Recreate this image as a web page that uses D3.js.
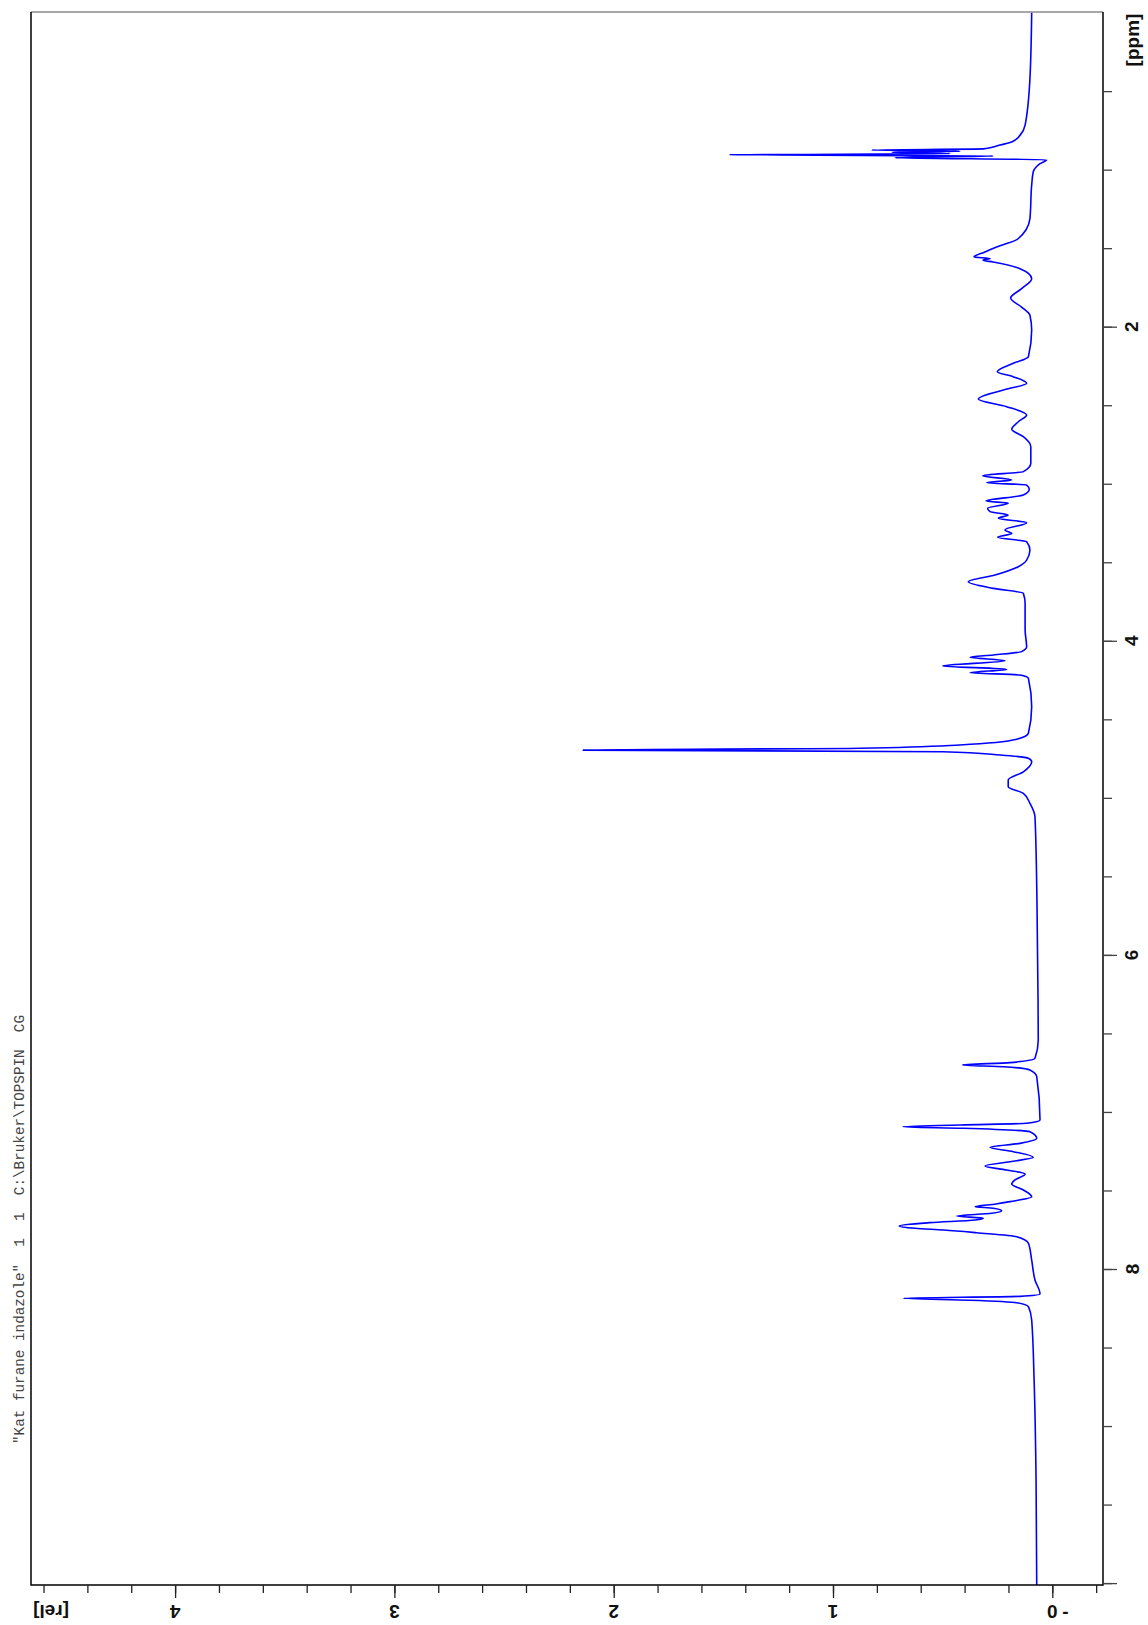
<!DOCTYPE html>
<html>
<head>
<meta charset="utf-8">
<script src="https://cdn.jsdelivr.net/npm/d3@7"></script>
<style>
  html, body { margin: 0; padding: 0; background: #fff; }
  svg { display: block; }
</style>
</head>
<body>
<svg id="chart" width="1148" height="1625"></svg>
<script>
// ---------------- data ----------------
const titleText = '"Kat furane indazole"  1  1  C:\\Bruker\\TOPSPIN  CG';
const relTicks = [0, 1, 2, 3, 4];
const ppmTickLabels = [2, 4, 6, 8];
const relAxisLabel = "[rel]";
const ppmAxisLabel = "[ppm]";

// chemical shift (ppm) of trace points
const shiftPpm = [
  0.000, 0.421, 0.716, 0.777, 0.824, 0.843, 0.856, 0.868, 0.875, 0.883, 0.890, 0.898,
  0.905, 0.913, 0.924, 0.937, 0.962, 1.015, 1.098, 1.312, 1.440, 1.493,
  1.524, 1.556, 1.566, 1.577, 1.588, 1.631, 1.694, 1.758, 1.817, 1.875,
  1.927, 2.021, 2.191, 2.233, 2.287, 2.318, 2.360, 2.403, 2.460, 2.509,
  2.562, 2.605, 2.653, 2.700, 2.764, 2.870, 2.923, 2.949, 2.976, 2.993,
  3.008, 3.035, 3.072, 3.110, 3.124, 3.156, 3.178, 3.199, 3.220, 3.248,
  3.294, 3.316, 3.341, 3.369, 3.422, 3.486, 3.528, 3.581, 3.624, 3.666,
  3.698, 3.761, 3.931, 4.038, 4.069, 4.090, 4.105, 4.127, 4.160, 4.182,
  4.203, 4.218, 4.239, 4.420, 4.589, 4.627, 4.663, 4.684, 4.696, 4.706,
  4.727, 4.748, 4.770, 4.834, 4.886, 4.929, 4.971, 5.035, 5.120, 5.650,
  6.287, 6.542, 6.658, 6.686, 6.701, 6.712, 6.733, 6.775, 7.051, 7.072,
  7.083, 7.094, 7.104, 7.126, 7.168, 7.200, 7.225, 7.253, 7.289, 7.317,
  7.344, 7.370, 7.395, 7.433, 7.459, 7.497, 7.540, 7.571, 7.586, 7.603,
  7.613, 7.629, 7.645, 7.663, 7.677, 7.688, 7.705, 7.726, 7.741, 7.752,
  7.769, 7.794, 7.836, 7.943, 8.070, 8.159, 8.174, 8.187, 8.199, 8.215,
  8.240, 8.325, 8.707, 9.344, 10.012
];
// relative intensity at each point
const intensityRel = [
  0.094, 0.102, 0.124, 0.145, 0.185, 0.238, 0.270, 0.315, 0.824, 0.421, 0.732, 0.466,
  1.473, 0.269, 0.717, 0.026, 0.056, 0.087, 0.094, 0.102, 0.156, 0.254,
  0.307, 0.357, 0.284, 0.316, 0.270, 0.147, 0.094, 0.140, 0.190, 0.140,
  0.102, 0.094, 0.109, 0.178, 0.251, 0.179, 0.117, 0.223, 0.337, 0.208,
  0.117, 0.155, 0.185, 0.132, 0.098, 0.098, 0.132, 0.317, 0.185, 0.299,
  0.117, 0.105, 0.132, 0.302, 0.201, 0.295, 0.284, 0.201, 0.246, 0.117,
  0.216, 0.185, 0.249, 0.117, 0.102, 0.117, 0.155, 0.261, 0.383, 0.269,
  0.132, 0.124, 0.124, 0.117, 0.140, 0.269, 0.375, 0.216, 0.500, 0.208,
  0.375, 0.147, 0.109, 0.094, 0.109, 0.162, 0.421, 0.877, 2.140, 0.500,
  0.238, 0.109, 0.094, 0.132, 0.201, 0.201, 0.132, 0.102, 0.079, 0.070,
  0.065, 0.064, 0.079, 0.193, 0.409, 0.223, 0.102, 0.071, 0.056, 0.117,
  0.421, 0.682, 0.407, 0.102, 0.071, 0.147, 0.284, 0.178, 0.087, 0.193,
  0.307, 0.208, 0.124, 0.170, 0.185, 0.132, 0.094, 0.193, 0.257, 0.352,
  0.269, 0.231, 0.276, 0.436, 0.315, 0.352, 0.558, 0.698, 0.626, 0.497,
  0.345, 0.162, 0.109, 0.094, 0.079, 0.056, 0.147, 0.679, 0.375, 0.162,
  0.109, 0.094, 0.083, 0.074, 0.071
];

// ---------------- layout ----------------
const svg = d3.select("#chart");
const plot = { left: 31, top: 12, right: 1103, bottom: 1585 };

// rel axis runs horizontally (rotated spectrum), ppm axis vertically
const x = d3.scaleLinear().domain([0, 4]).range([1052.3, 175.1]);
const y = d3.scaleLinear().domain([0, 10]).range([12.6, 1583.1]);

svg.append("rect").attr("width", 1148).attr("height", 1625).attr("fill", "#fff");

// clip
svg.append("clipPath").attr("id", "clip")
  .append("rect")
  .attr("x", plot.left).attr("y", plot.top)
  .attr("width", plot.right - plot.left).attr("height", plot.bottom - plot.top);

// spectrum trace
const pts = shiftPpm.map((p, i) => ({ ppm: p, rel: intensityRel[i] }));
const line = d3.line().x(d => x(d.rel)).y(d => y(d.ppm)).curve(d3.curveMonotoneY);
svg.append("path")
  .datum(pts)
  .attr("clip-path", "url(#clip)")
  .attr("d", line)
  .attr("fill", "none")
  .attr("stroke", "#0000ff")
  .attr("stroke-width", 1.6)
  .attr("stroke-linejoin", "round");

// frame
svg.append("line").attr("x1", plot.left).attr("x2", plot.right).attr("y1", plot.top).attr("y2", plot.top)
  .attr("stroke", "#8a8a8a").attr("stroke-width", 1.5);
svg.append("path")
  .attr("d", `M${plot.left},${plot.top}V${plot.bottom}H${plot.right}V${plot.top}`)
  .attr("fill", "none").attr("stroke", "#000").attr("stroke-width", 1.5);

// rel axis (bottom)
const relMinor = d3.range(-1, 24).map(i => +(i * 0.2).toFixed(1));
const gRelMinor = svg.append("g").attr("transform", `translate(0,${plot.bottom})`)
  .call(d3.axisBottom(x).tickValues(relMinor).tickSize(8).tickFormat(""));
const gRelMajor = svg.append("g").attr("transform", `translate(0,${plot.bottom})`)
  .call(d3.axisBottom(x).tickValues(relTicks).tickSize(13).tickFormat(""));
[gRelMinor, gRelMajor].forEach(g => {
  g.select(".domain").remove();
  g.selectAll("line").attr("stroke", "#222").attr("stroke-width", 1.3);
  g.selectAll("text").remove();
});

const labelFont = "'Liberation Sans', Arial, sans-serif";
const labelY = 1611;
svg.append("g").selectAll("text").data(relTicks).join("text")
  .attr("x", d => x(d)).attr("y", labelY)
  .attr("transform", d => `rotate(180,${x(d)},${labelY})`)
  .attr("text-anchor", "middle").attr("dominant-baseline", "central")
  .attr("font-family", labelFont).attr("font-weight", "bold").attr("font-size", 19)
  .attr("fill", "#111")
  .text(d => d);
svg.append("text")
  .attr("x", x(0) + 13).attr("y", labelY)
  .attr("text-anchor", "middle").attr("dominant-baseline", "central")
  .attr("font-family", labelFont).attr("font-weight", "bold").attr("font-size", 19)
  .attr("fill", "#111").text("-");
svg.append("text")
  .attr("x", 51).attr("y", labelY)
  .attr("transform", `rotate(180,51,${labelY})`)
  .attr("text-anchor", "middle").attr("dominant-baseline", "central")
  .attr("font-family", labelFont).attr("font-weight", "bold").attr("font-size", 19)
  .attr("fill", "#111").text(relAxisLabel);

// ppm axis (right)
const ppmMinor = d3.range(1, 21).map(i => i * 0.5);
const ppmMajor = [2, 4, 6, 8, 10];
const gPpmMinor = svg.append("g").attr("transform", `translate(${plot.right},0)`)
  .call(d3.axisRight(y).tickValues(ppmMinor).tickSize(9).tickFormat(""));
const gPpmMajor = svg.append("g").attr("transform", `translate(${plot.right},0)`)
  .call(d3.axisRight(y).tickValues(ppmMajor).tickSize(14).tickFormat(""));
[gPpmMinor, gPpmMajor].forEach(g => {
  g.select(".domain").remove();
  g.selectAll("line").attr("stroke", "#444").attr("stroke-width", 1.3);
  g.selectAll("text").remove();
});
const ppmLabelX = 1132;
svg.append("g").selectAll("text").data(ppmTickLabels).join("text")
  .attr("x", ppmLabelX).attr("y", d => y(d))
  .attr("transform", d => `rotate(-90,${ppmLabelX},${y(d)})`)
  .attr("text-anchor", "middle").attr("dominant-baseline", "central")
  .attr("font-family", labelFont).attr("font-weight", "bold").attr("font-size", 19)
  .attr("fill", "#111")
  .text(d => d);
svg.append("text")
  .attr("x", ppmLabelX).attr("y", 40)
  .attr("transform", `rotate(-90,${ppmLabelX},40)`)
  .attr("text-anchor", "middle").attr("dominant-baseline", "central")
  .attr("font-family", labelFont).attr("font-weight", "bold").attr("font-size", 19)
  .attr("fill", "#111").text(ppmAxisLabel);

// title (rotated, reading bottom to top)
svg.append("text")
  .attr("x", 24).attr("y", 1015)
  .attr("transform", "rotate(-90,24,1015)")
  .attr("text-anchor", "end")
  .attr("font-family", "'Liberation Mono', 'DejaVu Sans Mono', monospace")
  .attr("font-size", 14.3)
  .attr("fill", "#444")
  .attr("xml:space", "preserve")
  .style("white-space", "pre")
  .text(titleText);
</script>
</body>
</html>
